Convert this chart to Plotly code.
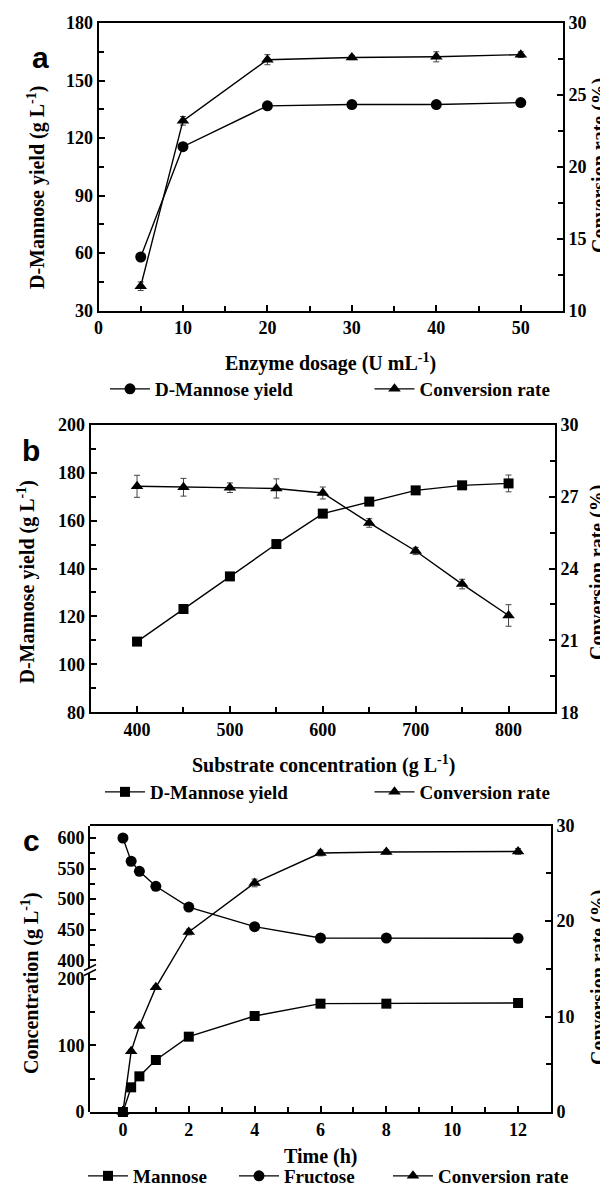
import plotly.graph_objects as go

# ---------------- data ----------------
# panel a
a_dose = [5, 10, 20, 30, 40, 50]
a_yield = [58.0, 115.5, 136.8, 137.5, 137.5, 138.5]
a_yield_err = [1.0, 1.5, 1.0, 1.0, 1.0, 1.0]
a_conv = [11.7, 23.2, 27.45, 27.6, 27.65, 27.8]
a_conv_err = [0.3, 0.3, 0.35, 0.15, 0.35, 0.2]

# panel b
b_sub = [400, 450, 500, 550, 600, 650, 700, 750, 800]
b_yield = [109.5, 123.1, 136.7, 150.2, 162.9, 167.9, 172.6, 174.7, 175.5]
b_yield_err = [1.0, 1.0, 1.0, 1.8, 1.0, 1.0, 1.0, 1.0, 3.5]
b_conv = [27.43, 27.39, 27.37, 27.34, 27.15, 25.9, 24.73, 23.35, 22.04]
b_conv_err = [0.46, 0.37, 0.2, 0.4, 0.25, 0.18, 0.15, 0.2, 0.45]

# panel c
c_time = [0, 0.25, 0.5, 1, 2, 4, 6, 8, 12]
c_mannose = [0, 37, 53.5, 78, 113, 144, 162.5, 162.5, 163.5]
c_mannose_err = [0, 1, 1, 1, 1.5, 1.5, 1.5, 1.5, 1.5]
c_fructose = [600, 562, 545.5, 521, 487, 455, 436.5, 436.5, 436]
c_fructose_err = [2, 2, 2, 4, 5, 3, 2, 2, 2]
c_conv = [0, 6.36, 9.0, 13.06, 18.86, 24.0, 27.14, 27.24, 27.3]
c_conv_err = [0, 0.2, 0.2, 0.2, 0.3, 0.4, 0.3, 0.2, 0.3]

# ---------------- style ----------------
W, H = 608, 1188
SERIF = "Liberation Serif"
SANS = "Liberation Sans"
TICKF = dict(family=SERIF, size=18, color="black", weight="bold")
TITLEF = dict(family=SERIF, size=20, color="black", weight="bold")
LEGF = dict(family=SERIF, size=19, color="black", weight="bold")


def px_x(p):
    return p / W


def px_y(p):
    return 1 - p / H


def err(vals):
    return dict(type="data", array=vals, visible=True, color="#444",
                thickness=1, width=3)


def trace(x, y, e, name, symbol, size, xa, ya, legend):
    return go.Scatter(
        x=x, y=y, error_y=err(e), name=name, mode="lines+markers",
        line=dict(color="black", width=1.4),
        marker=dict(symbol=symbol, size=size, color="black"),
        xaxis=xa, yaxis=ya, legend=legend, cliponaxis=False,
    )


fig = go.Figure()
fig.add_trace(trace(a_dose, a_yield, a_yield_err, "D-Mannose yield", "circle", 11, "x", "y", "legend"))
fig.add_trace(trace(a_dose, a_conv, a_conv_err, "Conversion rate", "triangle-up", 11, "x", "y2", "legend2"))
fig.add_trace(trace(b_sub, b_yield, b_yield_err, "D-Mannose yield", "square", 10, "x2", "y3", "legend3"))
fig.add_trace(trace(b_sub, b_conv, b_conv_err, "Conversion rate", "triangle-up", 11, "x2", "y4", "legend4"))
fig.add_trace(trace(c_time, c_mannose, c_mannose_err, "Mannose", "square", 10, "x3", "y5", "legend5"))
fig.add_trace(trace(c_time, c_fructose, c_fructose_err, "Fructose", "circle", 11, "x3", "y6", "legend6"))
fig.add_trace(trace(c_time, c_conv, c_conv_err, "Conversion rate", "triangle-up", 11, "x3", "y7", "legend7"))


def ax(**kw):
    d = dict(showline=True, linecolor="black", linewidth=2, ticks="inside",
             ticklen=6, tickwidth=2, tickcolor="black", showgrid=False,
             zeroline=False, tickfont=TICKF, fixedrange=True, automargin=False)
    minor_dtick = kw.pop("minor_dtick", None)
    if minor_dtick is not None:
        d["minor"] = dict(ticks="inside", ticklen=5, tickwidth=2,
                          tickcolor="black", dtick=minor_dtick, showgrid=False)
    d.update(kw)
    return d


# panel geometry (page pixels)
A = dict(l=90.5, r=555, t=15, b=302.7)
B = dict(l=82.6, r=547, t=416.7, b=704.3)
C = dict(l=82, r=543, t=817.7, b=1104, mid_lo=960, mid_hi=964)

fig.update_layout(
    template="none",
    width=W, height=H, margin=dict(l=0, r=0, t=0, b=0, autoexpand=False),
    paper_bgcolor="white", plot_bgcolor="rgba(0,0,0,0)", showlegend=True,
    xaxis=ax(domain=[px_x(A["l"]), px_x(A["r"])], range=[0, 55], dtick=10, tick0=0,
             minor_dtick=5, anchor="y", mirror=True),
    yaxis=ax(domain=[px_y(A["b"]), px_y(A["t"])], range=[30, 180], dtick=30, tick0=30,
             minor_dtick=15, anchor="x"),
    yaxis2=ax(range=[10, 30], dtick=5, tick0=10, minor_dtick=2.5, overlaying="y",
              side="right", anchor="x"),
    xaxis2=ax(domain=[px_x(B["l"]), px_x(B["r"])], range=[350, 850], dtick=100, tick0=400,
              minor_dtick=50, anchor="y3", mirror=True),
    yaxis3=ax(domain=[px_y(B["b"]), px_y(B["t"])], range=[80, 200], dtick=20, tick0=80,
              minor_dtick=10, anchor="x2"),
    yaxis4=ax(range=[18, 30], dtick=3, tick0=18, minor_dtick=1.5, overlaying="y3",
              side="right", anchor="x2"),
    xaxis3=ax(domain=[px_x(C["l"]), px_x(C["r"])], range=[-1, 13], dtick=2, tick0=0,
              minor_dtick=1, anchor="y7", mirror=True),
    yaxis5=ax(domain=[px_y(C["b"]), px_y(C["mid_lo"])], range=[0, 216], dtick=100, tick0=0,
              minor_dtick=50, anchor="x3"),
    yaxis6=ax(domain=[px_y(C["mid_hi"]), px_y(C["t"])], range=[380.9, 620.1], dtick=50, tick0=400,
              minor_dtick=25, anchor="x3"),
    yaxis7=ax(domain=[px_y(C["b"]), px_y(C["t"])], range=[0, 30], dtick=10, tick0=0,
              minor_dtick=5, anchor="x3", side="right"),
)

# legends: one per series, placed like the reference
leg_pos = {
    "legend": (97, 381), "legend2": (361.5, 381),
    "legend3": (92, 784), "legend4": (361.5, 784),
    "legend5": (75, 1168), "legend6": (226, 1168), "legend7": (380, 1168),
}
for key, (lx, ly) in leg_pos.items():
    fig.update_layout({key: dict(x=px_x(lx), y=px_y(ly), xanchor="left", yanchor="middle",
                                 xref="paper", yref="paper", orientation="h",
                                 font=LEGF, bgcolor="rgba(0,0,0,0)", borderwidth=0,
                                 itemwidth=40, tracegroupgap=0)})

# titles and panel labels
ann = []


def title(text, x, y, angle=0):
    ann.append(dict(text=text, x=px_x(x), y=px_y(y), xref="paper", yref="paper",
                    showarrow=False, textangle=angle, font=TITLEF,
                    xanchor="center", yanchor="middle"))


title("Enzyme dosage (U mL<sup>-1</sup>)", 322.8, 354)
title("D-Mannose yield (g L<sup>-1</sup>)", 29, 180, -90)
title("Conversion rate (%)", 592, 157, -90)
title("Substrate concentration (g L<sup>-1</sup>)", 315, 756)
title("D-Mannose yield (g L<sup>-1</sup>)", 18, 574.5, -90)
title("Conversion rate (%)", 590, 564, -90)
title("Time (h)", 312.5, 1148)
title("Concentration (g L<sup>-1</sup>)", 22, 975, -90)
title("Conversion rate (%)", 590, 969, -90)

for lab, x, y in [("a", 32, 50), ("b", 23, 442), ("c", 23, 833)]:
    ann.append(dict(text=lab, x=px_x(x), y=px_y(y), xref="paper", yref="paper",
                    showarrow=False, font=dict(family=SANS, size=30, color="black", weight="bold"),
                    xanchor="center", yanchor="middle"))
fig.update_layout(annotations=ann)

# axis break marks on panel c left spine
sx = C["l"]
shapes = [
    dict(type="path", xref="paper", yref="paper", line=dict(width=0), fillcolor="white",
         path=f"M {px_x(sx-3)} {px_y(961)} L {px_x(sx+3)} {px_y(958)} L {px_x(sx+3)} {px_y(963)} L {px_x(sx-3)} {px_y(966)} Z"),
    dict(type="line", xref="paper", yref="paper", line=dict(color="black", width=1.5),
         x0=px_x(sx-6), y0=px_y(962.5), x1=px_x(sx+6), y1=px_y(956.5)),
    dict(type="line", xref="paper", yref="paper", line=dict(color="black", width=1.5),
         x0=px_x(sx-6), y0=px_y(967.5), x1=px_x(sx+6), y1=px_y(961.5)),
]
fig.update_layout(shapes=shapes)

fig.write_html("out.html")
